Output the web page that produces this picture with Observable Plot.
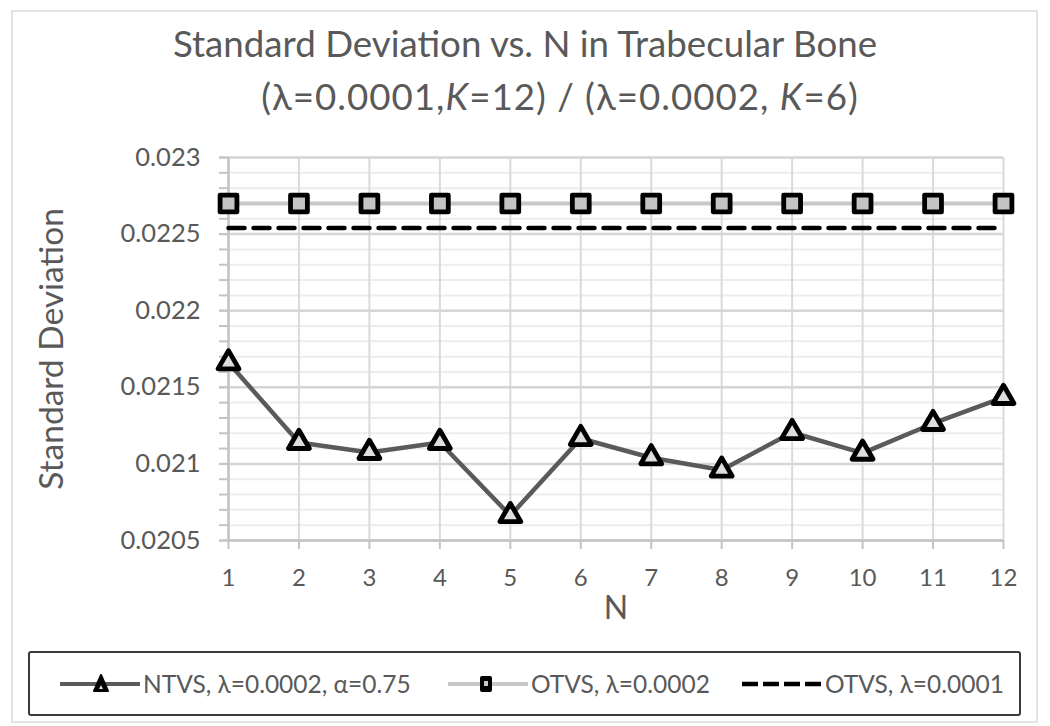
<!DOCTYPE html>
<html><head><meta charset="utf-8">
<script src="https://cdn.jsdelivr.net/npm/d3@7"></script>
<script src="https://cdn.jsdelivr.net/npm/@observablehq/plot@0.6"></script>
<style>
body{margin:0;background:#fff;font-family:Lato,"Open Sans",sans-serif;color:#595959}
#wrap{position:relative;width:1050px;height:726px;overflow:hidden;background:#fff}
#border{position:absolute;left:11px;top:10px;width:1027px;height:713px;border:2px solid #e3e3e3;box-sizing:border-box}
#title{position:absolute;left:0;top:17px;width:1050px;text-align:center;font-size:36.7px;line-height:53px;white-space:nowrap}
#title .l2{letter-spacing:1px;position:relative;left:35px}
#chart{position:absolute;left:0;top:130px}
#legend{position:absolute;left:28px;top:651px;width:993px;height:65px;border:2.5px solid #3a3a3a;border-radius:3px;box-sizing:border-box}
.item{position:absolute;top:0;height:100%;display:flex;align-items:center;font-size:24.5px;white-space:nowrap}
.item svg{display:block;margin-right:2px}
</style></head>
<body>
<div id="wrap">
  <div id="border"></div>
  <div id="title">Standard Deviation vs. N in Trabecular Bone<br><span class="l2">(λ=0.0001,<i>K</i>=12) / (λ=0.0002, <i>K</i>=6)</span></div>
  <div id="chart"></div>
  <div id="legend"></div>
</div>
<script>
// ---- data ----
const N = [1, 2, 3, 4, 5, 6, 7, 8, 9, 10, 11, 12];
const ntvs = [0.02166, 0.02114, 0.021075, 0.02114, 0.020663, 0.021166, 0.02104, 0.02096, 0.021205, 0.02107, 0.021264, 0.021434];
const otvs2 = [0.0227, 0.0227, 0.0227, 0.0227, 0.0227, 0.0227, 0.0227, 0.0227, 0.0227, 0.0227, 0.0227, 0.0227];
const otvs1 = [0.02254, 0.02254, 0.02254, 0.02254, 0.02254, 0.02254, 0.02254, 0.02254, 0.02254, 0.02254, 0.02254, 0.02254];
const yTicks = [0.0205, 0.021, 0.0215, 0.022, 0.0225, 0.023];
const seriesNames = ["NTVS, λ=0.0002, α=0.75", "OTVS, λ=0.0002", "OTVS, λ=0.0001"];

const ntvsData = N.map((n, i) => ({n, v: ntvs[i]}));
const otvs2Data = N.map((n, i) => ({n, v: otvs2[i]}));
const otvs1Data = N.map((n, i) => ({n, v: otvs1[i]}));
const yMinor = d3.range(0, 26).map(k => +(0.0205 + k * 0.0001).toFixed(4));

const chart = Plot.plot({
  width: 1050,
  height: 520,
  marginTop: 27,
  marginBottom: 110,
  marginLeft: 228,
  marginRight: 47,
  style: {fontFamily: "Lato, 'Open Sans', sans-serif", fontSize: "24px", color: "#595959", background: "transparent", overflow: "visible"},
  x: {type: "linear", domain: [1, 12]},
  y: {type: "linear", domain: [0.0205, 0.023]},
  marks: [
    Plot.gridY({ticks: yMinor, stroke: "#ededed", strokeOpacity: 1, strokeWidth: 2}),
    Plot.gridX({ticks: N, stroke: "#dadada", strokeOpacity: 1, strokeWidth: 2}),
    Plot.gridY({ticks: yTicks, stroke: "#d6d6d6", strokeOpacity: 1, strokeWidth: 2.5}),
    Plot.axisY({ticks: yMinor, tickSize: 9, tickFormat: () => "", label: null, stroke: "#c4c4c4", strokeWidth: 2}),
    Plot.axisY({ticks: yTicks, tickSize: 9, tickPadding: 19, tickFormat: d => String(+d.toFixed(4)), label: null, stroke: "#c4c4c4", strokeWidth: 2, fill: "#595959", fontSize: 25.5}),
    Plot.axisX({ticks: N, tickSize: 9, tickPadding: 19, tickFormat: d => String(d), label: null, stroke: "#c4c4c4", strokeWidth: 2, fill: "#595959", fontSize: 24}),
    Plot.ruleX([1], {stroke: "#c4c4c4", strokeWidth: 2.5}),
    Plot.ruleY([0.0205], {stroke: "#c4c4c4", strokeWidth: 2.5}),
    Plot.text(["Standard Deviation"], {frameAnchor: "left", textAnchor: "middle", dx: -176, rotate: -90, fontSize: 33.5, fill: "#595959"}),
    Plot.text(["N"], {frameAnchor: "bottom", dy: 78, fontSize: 32, fill: "#595959"}),
    Plot.line(otvs2Data, {x: "n", y: "v", stroke: "#c8c8c8", strokeWidth: 4}),
    Plot.line(otvs1Data, {x: "n", y: "v", stroke: "#000", strokeWidth: 4.5, strokeDasharray: "16,9"}),
    Plot.line(ntvsData, {x: "n", y: "v", stroke: "#5a5a5a", strokeWidth: 4.5}),
    Plot.dot(otvs2Data, {x: "n", y: "v", symbol: "square", r: 9.5, fill: "#c4c4c4", stroke: "#000", strokeWidth: 4.8, strokeLinejoin: "round"}),
    Plot.dot(ntvsData, {x: "n", y: "v", symbol: "triangle", r: 7.8, fill: "#dedede", stroke: "#000", strokeWidth: 4.8, strokeLinejoin: "round"})
  ]
});
document.getElementById("chart").appendChild(chart);

// ---- legend ----
const legend = document.getElementById("legend");
const swatches = [
  `<svg width="82" height="30"><line x1="1" y1="15" x2="81" y2="15" stroke="#5a5a5a" stroke-width="4"/><path d="M42,6 L49,22 L35,22 Z" fill="#000" stroke="#000" stroke-width="2" stroke-linejoin="round"/><path d="M42,16 L44,20 L40,20 Z" fill="#ddd"/></svg>`,
  `<svg width="82" height="30"><line x1="1" y1="15" x2="81" y2="15" stroke="#c8c8c8" stroke-width="4"/><rect x="33" y="7" width="12" height="16" rx="2" fill="#000"/><rect x="37" y="12" width="4" height="5" fill="#ccc"/></svg>`,
  `<svg width="82" height="30"><line x1="1" y1="15" x2="81" y2="15" stroke="#000" stroke-width="4.5" stroke-dasharray="16,5"/></svg>`
];
const lefts = [29, 417, 711];
seriesNames.forEach((name, i) => {
  const div = document.createElement("div");
  div.className = "item";
  div.style.left = lefts[i] + "px";
  div.innerHTML = swatches[i] + `<span>${name}</span>`;
  legend.appendChild(div);
});
</script>
</body></html>
